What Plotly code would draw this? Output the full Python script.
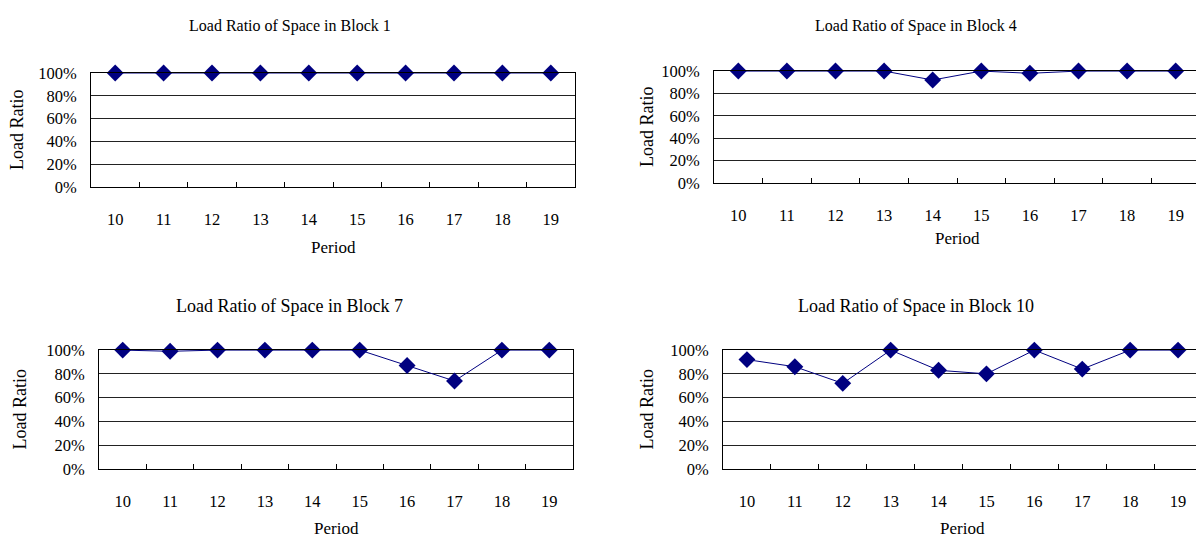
import plotly.graph_objects as go

periods = ["10", "11", "12", "13", "14", "15", "16", "17", "18", "19"]
block1 = [1.00, 1.00, 1.00, 1.00, 1.00, 1.00, 1.00, 1.00, 1.00, 1.00]
block4 = [1.00, 1.00, 1.00, 1.00, 0.92, 1.00, 0.98, 1.00, 1.00, 1.00]
block7 = [1.00, 0.99, 1.00, 1.00, 1.00, 1.00, 0.87, 0.74, 1.00, 1.00]
block10 = [0.92, 0.86, 0.72, 1.00, 0.83, 0.80, 1.00, 0.84, 1.00, 1.00]
titles = ["Load Ratio of Space in Block 1", "Load Ratio of Space in Block 4",
          "Load Ratio of Space in Block 7", "Load Ratio of Space in Block 10"]
y_ticks = [0, 0.2, 0.4, 0.6, 0.8, 1.0]
y_ticktext = ["0%", "20%", "40%", "60%", "80%", "100%"]

W, H = 1204, 551
OFF = 8  # default page body margin


def px_x(x):
    return (x - OFF) / W


def px_y(y):
    return 1 - (y - OFF) / H


# pixel boxes for plot areas: (x0, x1, ytop, ybottom)
boxes = [(91, 575, 66, 184), (714, 1200, 64, 180), (99, 573, 353, 476), (723, 1202, 353, 476)]
title_pos = [(290, 17, 16), (916, 17, 16), (289, 307, 18), (916, 307, 18)]
ytitle_x = [17, 647, 20, 647]
period_y = [247, 237, 538, 538]

FONT = "Liberation Serif"
NAVY = "#000080"

fig = go.Figure()
series = [block1, block4, block7, block10]
annotations = []
for i, (vals, box) in enumerate(zip(series, boxes)):
    n = i + 1
    xa = "x" if n == 1 else f"x{n}"
    ya = "y" if n == 1 else f"y{n}"
    fig.add_trace(go.Scatter(
        x=periods, y=vals, xaxis=xa, yaxis=ya, mode="lines+markers",
        line=dict(color=NAVY, width=1),
        marker=dict(symbol="diamond", size=13, color=NAVY),
        cliponaxis=False, showlegend=False))
    x0, x1, yt, yb = box
    xkey = "xaxis" if n == 1 else f"xaxis{n}"
    ykey = "yaxis" if n == 1 else f"yaxis{n}"
    fig.layout[xkey] = dict(
        domain=[px_x(x0), px_x(x1)], anchor=ya, type="category",
        range=[-0.5, 9.5], tickson="boundaries", ticks="inside", ticklen=5,
        tickcolor="#000", showgrid=False, showline=True, linecolor="#000",
        linewidth=1, mirror=True, ticklabelstandoff=17,
        tickfont=dict(family=FONT, size=16.5, color="#000"), fixedrange=True)
    fig.layout[ykey] = dict(
        domain=[px_y(yb), px_y(yt)], anchor=xa, range=[0, 1],
        tickvals=y_ticks, ticktext=y_ticktext, showgrid=True,
        gridcolor="#222", gridwidth=1, showline=True, linecolor="#000",
        linewidth=1, mirror=True, ticks="", ticklabelstandoff=10,
        tickfont=dict(family=FONT, size=16.5, color="#000"), zeroline=False,
        fixedrange=True)
    tx, ty, ts = title_pos[i]
    annotations.append(dict(text=titles[i], x=px_x(tx), y=px_y(ty), xref="paper",
                            yref="paper", showarrow=False, xanchor="center",
                            yanchor="middle", font=dict(family=FONT, size=ts, color="#000")))
    annotations.append(dict(text="Period", x=px_x((x0 + x1) / 2), y=px_y(period_y[i]),
                            xref="paper", yref="paper", showarrow=False,
                            xanchor="center", yanchor="middle",
                            font=dict(family=FONT, size=17, color="#000")))
    annotations.append(dict(text="Load Ratio", x=px_x(ytitle_x[i]), y=px_y((yt + yb) / 2),
                            xref="paper", yref="paper", showarrow=False, textangle=-90,
                            xanchor="center", yanchor="middle",
                            font=dict(family=FONT, size=18, color="#000")))

fig.update_layout(width=W, height=H, margin=dict(l=0, r=0, t=0, b=0),
                  paper_bgcolor="white", plot_bgcolor="white",
                  annotations=annotations)
fig.write_html("out.html")
